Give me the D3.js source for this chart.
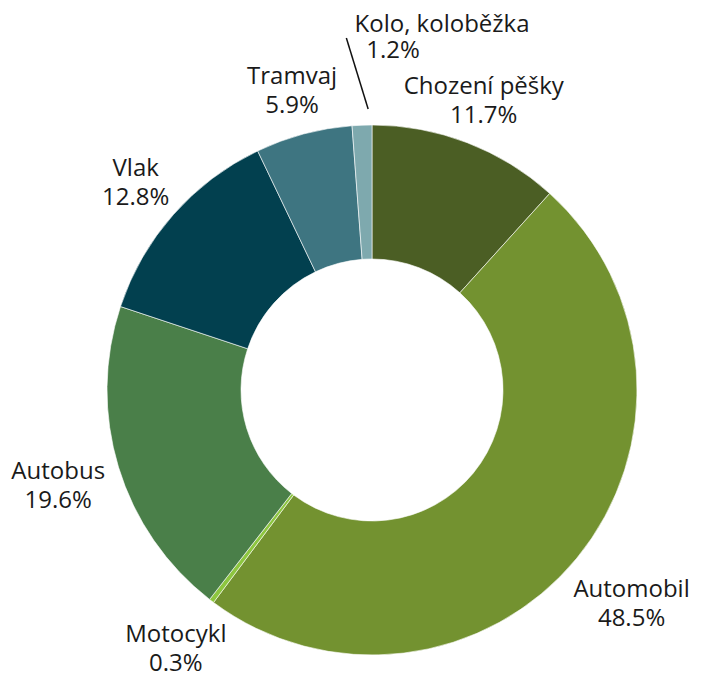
<!DOCTYPE html>
<html>
<head>
<meta charset="utf-8">
<script src="https://cdn.jsdelivr.net/npm/d3@7"></script>
<style>
  body { margin: 0; background: #fff; }
  text { font-family: "Open Sans", sans-serif; font-size: 24px; fill: #1a1a1a; }
</style>
</head>
<body>
<div class="chart-container"></div>
<script>
// modes of transport, clockwise from 12 o'clock
var categories = ["Chození pěšky", "Automobil", "Motocykl", "Autobus", "Vlak", "Tramvaj", "Kolo, koloběžka"];
var values = [11.7, 48.5, 0.3, 19.6, 12.8, 5.9, 1.2];
var colors = ["#4b5e24", "#739230", "#8dc63f", "#4a7f49", "#02404f", "#3e7581", "#7ea9ae"];

var width = 702, height = 677;
var cx = 372, cy = 390,
    outerR = 265, innerR = 131,
    labelR = 313;

// labels below the ring sit a bit further out
var labelNudge = { "Automobil": 23, "Motocykl": 11, "Autobus": 15, "Vlak": 2, "Chození pěšky": -2, "Tramvaj": -3 };

var data = categories.map(function(c, i) {
  return { name: c, value: values[i], color: colors[i] };
});

var svg = d3.select(".chart-container").append("svg")
    .attr("width", width)
    .attr("height", height);

var g = svg.append("g")
    .attr("transform", "translate(" + cx + "," + cy + ")");

var pie = d3.pie()
    .sort(null)
    .value(function(d) { return d.value; });

var arc = d3.arc()
    .innerRadius(innerR)
    .outerRadius(outerR);

var arcs = pie(data);

g.selectAll(".slice")
  .data(arcs)
  .enter().append("path")
    .attr("class", "slice")
    .attr("d", arc)
    .style("fill", function(d) { return d.data.color; })
    .style("stroke", "#fff")
    .style("stroke-width", 0.6);

function polar(r, a) {
  return [r * Math.sin(a), -r * Math.cos(a)];
}

var kolo = arcs[arcs.length - 1];
var km = (kolo.startAngle + kolo.endAngle) / 2;

// regular labels round the ring
var labels = g.selectAll(".label")
  .data(arcs.slice(0, arcs.length - 1))
  .enter().append("g")
    .attr("class", "label")
    .attr("transform", function(d) {
      var mid = (d.startAngle + d.endAngle) / 2;
      var p = polar(labelR + (labelNudge[d.data.name] || 0), mid);
      return "translate(" + p[0] + "," + p[1] + ")";
    });

labels.append("text")
    .attr("text-anchor", "middle")
    .attr("y", -6)
    .text(function(d) { return d.data.name; });

labels.append("text")
    .attr("text-anchor", "middle")
    .attr("y", 23)
    .text(function(d) { return d.data.value.toFixed(1) + "%"; });

// tiny slice at the top: label pulled up with a leader line
var kp = polar(359, km + 0.234);
var kl = g.append("g")
    .attr("transform", "translate(" + kp[0] + "," + kp[1] + ")");
kl.append("text")
    .attr("text-anchor", "middle")
    .attr("y", -6)
    .text(kolo.data.name);
kl.append("text")
    .attr("text-anchor", "middle")
    .attr("x", -49)
    .attr("y", 20)
    .text(kolo.data.value.toFixed(1) + "%");

var p0 = polar(281, km + 0.024),
    p1 = polar(353, km - 0.035);
g.append("line")
    .attr("x1", p0[0]).attr("y1", p0[1])
    .attr("x2", p1[0]).attr("y2", p1[1])
    .style("stroke", "#111")
    .style("stroke-width", 1.5);
</script>
</body>
</html>
